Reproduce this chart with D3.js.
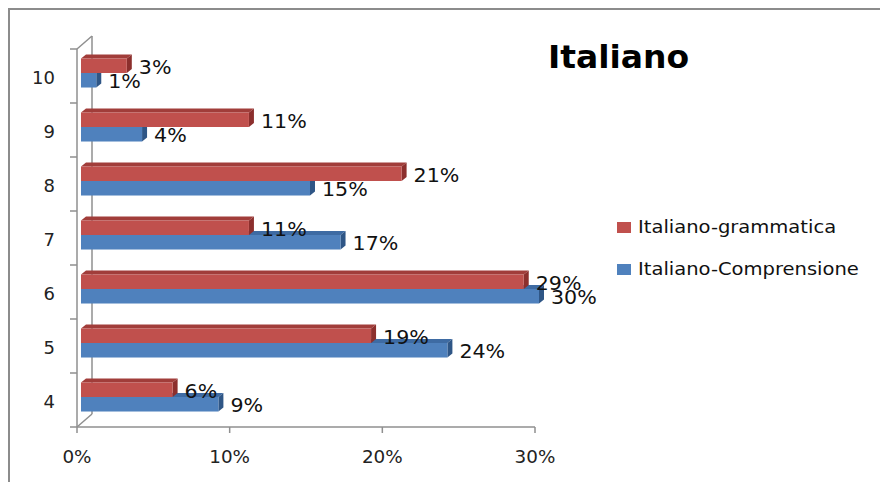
<!DOCTYPE html>
<html>
<head>
<meta charset="utf-8">
<script src="https://cdn.jsdelivr.net/npm/d3@7"></script>
<style>
  html, body { margin: 0; padding: 0; background: #fff; }
  svg { display: block; }
</style>
</head>
<body>
<svg id="chart" width="880" height="482"></svg>
<script>
// ---- data ----
const title = "Italiano";
const categories = ["4", "5", "6", "7", "8", "9", "10"];
const seriesNames = ["Italiano-grammatica", "Italiano-Comprensione"];
const grammatica = [6, 19, 29, 11, 21, 11, 3];
const comprensione = [9, 24, 30, 17, 15, 4, 1];
const xTicks = [0, 10, 20, 30];
const xTickLabels = ["0%", "10%", "20%", "30%"];

// ---- styles ----
const colors = {
  "Italiano-grammatica": { front: "#C0504D", top: "#A13D3A", side: "#8C2F2D" },
  "Italiano-Comprensione": { front: "#4F81BD", top: "#3E6BA3", side: "#2F5686" }
};
const axisColor = "#8f8f8f";
const font = "DejaVu Sans, Verdana, sans-serif";

const svg = d3.select("#chart");

// frame
svg.append("path")
  .attr("d", "M9,482 L9,9 L880,9")
  .attr("fill", "none").attr("stroke", "#8c8c8c").attr("stroke-width", 2);

// scales (front plane)
const x = d3.scaleLinear().domain([0, 30]).range([77, 535]);
const y = d3.scaleBand().domain(categories.slice().reverse()).range([49, 427]).paddingInner(0).paddingOuter(0);
const ySub = d3.scaleBand().domain(seriesNames).range([0, y.bandwidth()]).paddingInner(0).paddingOuter(0.86);

// 3D offsets
const wall = { dx: 15, dy: -13 };   // back wall depth
const plane = { dx: 4, dy: -3 };    // bar plane relative to front
const depth = { dx: 5, dy: -4 };    // bar thickness

function txt(parent, px, py, str, opts) {
  const t = parent.append("text")
    .attr("transform", `translate(${px},${py}) scale(${opts.sx || 1},1)`)
    .attr("font-family", opts.family || font)
    .attr("font-size", opts.size)
    .attr("font-weight", opts.weight || "normal")
    .attr("fill", opts.fill || "#000")
    .attr("text-anchor", opts.anchor || "start")
    .text(str);
  return t;
}

// ---- axes / walls ----
const axes = svg.append("g").attr("stroke", axisColor).attr("stroke-width", 1.5).attr("fill", "none");
const x0 = x(0), yTop = y.range()[0], yBot = y.range()[1];
// back wall left edge
axes.append("line").attr("x1", x0 + wall.dx).attr("x2", x0 + wall.dx)
  .attr("y1", yTop + wall.dy).attr("y2", yBot + wall.dy);
// diagonals
axes.append("line").attr("x1", x0).attr("y1", yTop).attr("x2", x0 + wall.dx).attr("y2", yTop + wall.dy);
axes.append("line").attr("x1", x0).attr("y1", yBot).attr("x2", x0 + wall.dx).attr("y2", yBot + wall.dy);

// ---- bars ----
const barsG = svg.append("g");
function drawBar(cat, name, v) {
  const c = colors[name];
  const left = x(0) + plane.dx;
  const right = x(v) + plane.dx;
  const t = y(cat) + ySub(name) + plane.dy;
  const b = t + ySub.bandwidth();
  const g = barsG.append("g");
  // top face
  g.append("polygon")
    .attr("points", [[left, t], [left + depth.dx, t + depth.dy], [right + depth.dx, t + depth.dy], [right, t]].map(p => p.join(",")).join(" "))
    .attr("fill", c.top);
  // side face
  g.append("polygon")
    .attr("points", [[right, t], [right + depth.dx, t + depth.dy], [right + depth.dx, b + depth.dy], [right, b]].map(p => p.join(",")).join(" "))
    .attr("fill", c.side);
  // front face
  g.append("rect")
    .attr("x", left).attr("y", t).attr("width", right - left).attr("height", b - t)
    .attr("fill", c.front);
  return { right: right + depth.dx, mid: (t + b) / 2 };
}

const labelsG = svg.append("g");
// order: draw lower (Comprensione) first, then grammatica on top, bottom category first
const order = categories.map((c, i) => i);
const labelQueue = [];
order.forEach(i => {
  const cat = categories[i];
  const r2 = drawBar(cat, seriesNames[1], comprensione[i]);
  labelQueue.push([r2, comprensione[i]]);
  const r1 = drawBar(cat, seriesNames[0], grammatica[i]);
  labelQueue.push([r1, grammatica[i]]);
});
labelQueue.forEach(([r, v]) => {
  txt(labelsG, r.right + 7, r.mid + 8, v + "%", { size: 20, sx: 1.03, fill: "#111" });
});

// front axes lines and ticks (drawn over)
const front = svg.append("g").attr("stroke", axisColor).attr("stroke-width", 1.5).attr("fill", "none");
front.append("line").attr("x1", x0).attr("x2", x0).attr("y1", yTop).attr("y2", yBot);
front.append("line").attr("x1", x0).attr("x2", x(30)).attr("y1", yBot).attr("y2", yBot);
const boundaries = categories.slice().reverse().map(c => y(c)).concat([yBot]);
boundaries.forEach(by => {
  front.append("line").attr("x1", x0 - 7).attr("x2", x0).attr("y1", by).attr("y2", by);
});
xTicks.forEach(v => {
  front.append("line").attr("x1", x(v)).attr("x2", x(v)).attr("y1", yBot).attr("y2", yBot + 6);
});

// axis labels
const axLab = svg.append("g");
categories.forEach(c => {
  txt(axLab, 55, y(c) + y.bandwidth() / 2 + 8, c, { size: 17, sx: 1.06, anchor: "end", fill: "#222" });
});
xTicks.forEach((v, i) => {
  txt(axLab, x(v), 463, xTickLabels[i], { size: 17, sx: 1.08, anchor: "middle", fill: "#222" });
});

// title
txt(svg, 548, 68, title, { size: 32, weight: "bold", sx: 1.03, fill: "#000" });

// legend
const leg = svg.append("g");
const legendRows = [
  { name: seriesNames[0], y: 233 },
  { name: seriesNames[1], y: 275 }
];
legendRows.forEach(r => {
  leg.append("rect").attr("x", 617).attr("y", r.y - 11).attr("width", 14).attr("height", 11)
    .attr("fill", colors[r.name].front);
  txt(leg, 638, r.y, r.name, { size: 17, sx: 1.15, fill: "#111" });
});
</script>
</body>
</html>
